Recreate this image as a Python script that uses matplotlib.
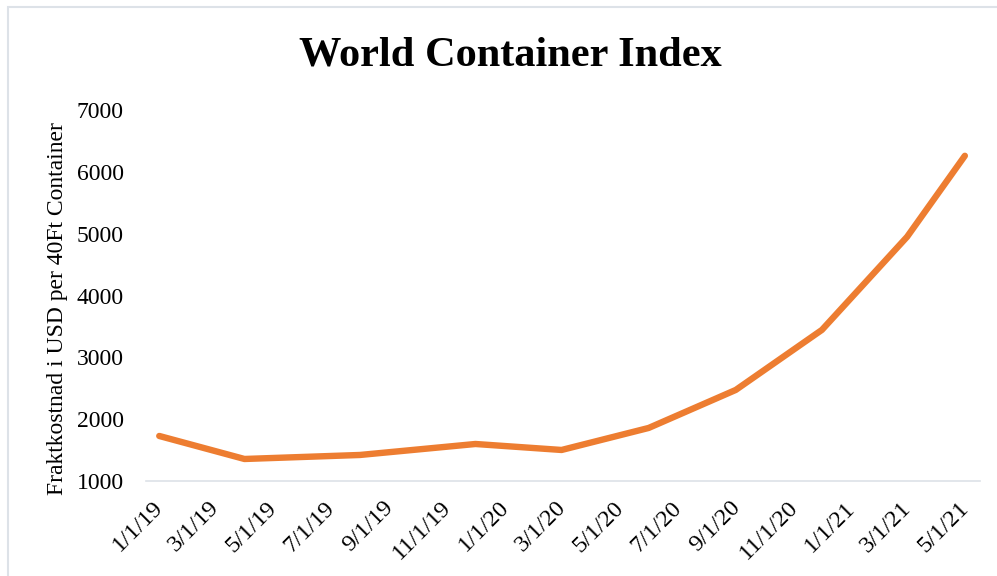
import matplotlib
matplotlib.use("Agg")
import matplotlib.pyplot as plt
import matplotlib.transforms as mtransforms
from matplotlib.patches import Rectangle
import pandas as pd

# ---- data ----
dates = ["2019-01-01", "2019-04-01", "2019-08-01", "2019-12-01", "2020-03-01",
         "2020-06-01", "2020-09-01", "2020-12-01", "2021-03-01", "2021-05-01"]
values = [1725, 1352, 1417, 1595, 1498, 1855, 2471, 3444, 4953, 6266]
tick_labels = ["1/1/19", "3/1/19", "5/1/19", "7/1/19", "9/1/19", "11/1/19",
               "1/1/20", "3/1/20", "5/1/20", "7/1/20", "9/1/20", "11/1/20",
               "1/1/21", "3/1/21", "5/1/21"]
y_ticks = [1000, 2000, 3000, 4000, 5000, 6000, 7000]
title = "World Container Index"
ylabel = "Fraktkostnad i USD per 40Ft Container"

x = pd.to_datetime(dates)
xt = pd.to_datetime(tick_labels, format="%m/%d/%y")

plt.rcParams["font.family"] = ["Liberation Serif", "DejaVu Serif"]

W, H = 997, 576
fig = plt.figure(figsize=(W / 100, H / 100), dpi=100)
ax = fig.add_axes([146 / W, 1 - 480.7 / H, (980 - 146) / W, (480.7 - 110.5) / H])

ax.plot(x, values, color="#ED7D31", lw=4.6, solid_capstyle="round",
        solid_joinstyle="round")

ax.set_xlim(x[0] - pd.Timedelta(days=14), x[-1] + pd.Timedelta(days=16))
ax.set_ylim(1000, 7000)
ax.set_yticks(y_ticks)
ax.set_yticklabels([str(v) for v in y_ticks], fontsize=17)
ax.set_xticks(xt)
ax.set_xticklabels([])

off = mtransforms.ScaledTranslation(1 / 100, -24 / 100, fig.dpi_scale_trans)
for pos, lab in zip(xt, tick_labels):
    ax.text(pos, 0, lab, transform=ax.get_xaxis_transform() + off,
            fontsize=17.5, rotation=45, ha="right", va="center",
            rotation_mode="anchor", clip_on=False)

ax.tick_params(axis="both", length=0)
ax.tick_params(axis="y", pad=16)
for s in ["top", "right", "left"]:
    ax.spines[s].set_visible(False)
ax.spines["bottom"].set_color("#DDE2E8")
ax.spines["bottom"].set_linewidth(1.2)

fig.text(510 / W, 1 - 56 / H, title, fontsize=30.5, fontweight="bold",
         ha="center", va="center")
fig.text(57 / W, 1 - 308.5 / H, ylabel, fontsize=17, rotation=90,
         ha="center", va="center")

fig.patches.append(Rectangle((7.5 / W, -0.1), 1.2, 1.1 - 7.5 / H,
                             transform=fig.transFigure, fill=False,
                             edgecolor="#DDE2E8", lw=1.5))

fig.savefig("out.png", dpi=100)
